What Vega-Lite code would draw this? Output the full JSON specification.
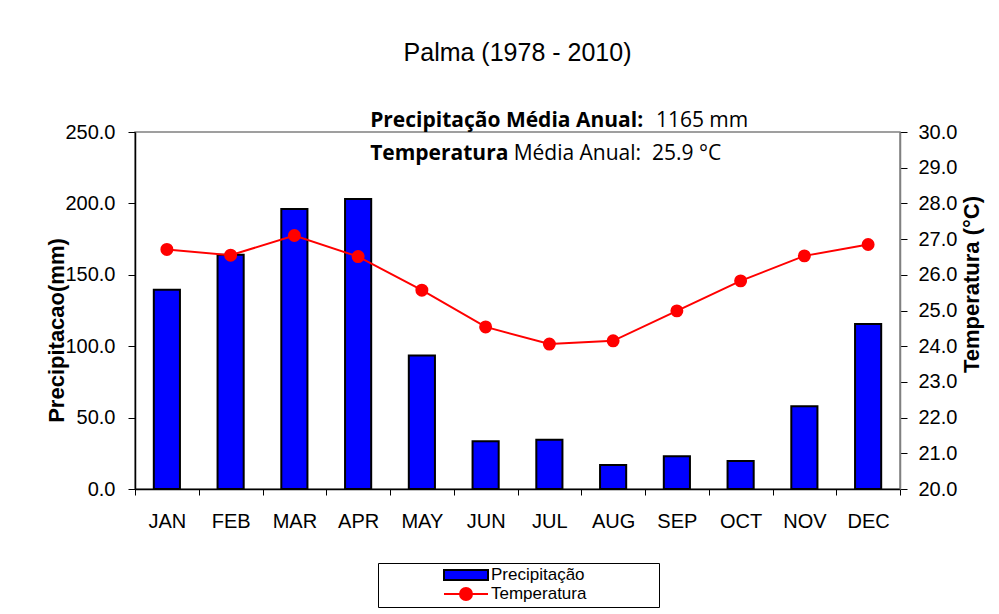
{
  "$schema": "https://vega.github.io/schema/vega-lite/v6.json",
  "width": 765,
  "height": 357,
  "autosize": {"type": "none"},
  "padding": {"left": 135, "top": 132, "right": 99, "bottom": 125},
  "background": "white",
  "title": {
    "text": "Palma (1978 - 2010)",
    "font": "Liberation Sans",
    "fontSize": 25,
    "fontWeight": "normal",
    "color": "black",
    "anchor": "middle",
    "baseline": "alphabetic",
    "offset": 24
  },
  "config": {
    "font": "Liberation Sans",
    "view": {"stroke": "#808080", "strokeWidth": 1.5},
    "legend": {
      "orient": "none",
      "legendX": 243,
      "legendY": 431,
      "direction": "vertical",
      "strokeColor": "black",
      "fillColor": "white",
      "padding": 3,
      "symbolOffset": 76,
      "symbolSize": 256,
      "symbolStrokeWidth": 2,
      "labelOffset": 16,
      "rowPadding": 0,
      "labelFont": "Liberation Sans",
      "labelFontSize": 17,
      "labelColor": "black",
      "labelLimit": 300,
      "titleOrient": "right",
      "titleFontSize": 17,
      "titlePadding": 3,
      "titleFont": "DejaVu Sans",
      "titleLimit": 300
    }
  },
  "datasets": {
    "precipitacao": [
      {"month": "JAN", "serie": "Precipitação", "valor": 139.5},
      {"month": "FEB", "serie": "Precipitação", "valor": 164},
      {"month": "MAR", "serie": "Precipitação", "valor": 196},
      {"month": "APR", "serie": "Precipitação", "valor": 203},
      {"month": "MAY", "serie": "Precipitação", "valor": 93.5},
      {"month": "JUN", "serie": "Precipitação", "valor": 33.5},
      {"month": "JUL", "serie": "Precipitação", "valor": 34.5},
      {"month": "AUG", "serie": "Precipitação", "valor": 16.8},
      {"month": "SEP", "serie": "Precipitação", "valor": 23},
      {"month": "OCT", "serie": "Precipitação", "valor": 19.6},
      {"month": "NOV", "serie": "Precipitação", "valor": 58},
      {"month": "DEC", "serie": "Precipitação", "valor": 115.5}
    ],
    "temperatura": [
      {"month": "JAN", "serie": "Temperatura", "valor": 26.71},
      {"month": "FEB", "serie": "Temperatura", "valor": 26.55},
      {"month": "MAR", "serie": "Temperatura", "valor": 27.1},
      {"month": "APR", "serie": "Temperatura", "valor": 26.51},
      {"month": "MAY", "serie": "Temperatura", "valor": 25.57},
      {"month": "JUN", "serie": "Temperatura", "valor": 24.54},
      {"month": "JUL", "serie": "Temperatura", "valor": 24.06},
      {"month": "AUG", "serie": "Temperatura", "valor": 24.15},
      {"month": "SEP", "serie": "Temperatura", "valor": 24.99},
      {"month": "OCT", "serie": "Temperatura", "valor": 25.83},
      {"month": "NOV", "serie": "Temperatura", "valor": 26.53},
      {"month": "DEC", "serie": "Temperatura", "valor": 26.85}
    ],
    "vazio": []
  },
  "encoding": {
    "x": {
      "field": "month",
      "type": "ordinal",
      "sort": ["JAN","FEB","MAR","APR","MAY","JUN","JUL","AUG","SEP","OCT","NOV","DEC"],
      "scale": {"paddingInner": 0, "paddingOuter": 0},
      "axis": {
        "title": null,
        "labelAngle": 0,
        "labelFont": "Liberation Sans",
        "labelFontSize": 20,
        "labelColor": "black",
        "labelPadding": 16,
        "tickBand": "extent",
        "tickSize": 6,
        "tickColor": "black",
        "domainColor": "black",
        "domainWidth": 1.5
      }
    }
  },
  "resolve": {"scale": {"y": "independent"}},
  "layer": [
    {
      "layer": [
        {
          "data": {"name": "precipitacao"},
          "mark": {"type": "bar", "strokeWidth": 2, "width": {"band": 0.41}},
          "encoding": {
            "y": {
              "field": "valor",
              "type": "quantitative",
              "scale": {"domain": [0, 250], "nice": false},
              "axis": {
                "title": "Precipitacao(mm)",
                "titleFont": "Liberation Sans",
                "titleFontSize": 22,
                "titleFontWeight": "bold",
                "titleColor": "black",
                "titleAngle": -90,
                "titleBaseline": "bottom",
                "titleAlign": "center",
                "titleX": -67,
                "titleY": 198,
                "values": [0, 50, 100, 150, 200, 250],
                "format": ".1f",
                "labelFont": "Liberation Sans",
                "labelFontSize": 20,
                "labelColor": "black",
                "labelPadding": 13,
                "tickSize": 7,
                "tickColor": "black",
                "domainColor": "black",
                "domainWidth": 1.5,
                "grid": false
              }
            },
            "fill": {
              "field": "serie",
              "type": "nominal",
              "scale": {"domain": ["Precipitação", "Temperatura"], "range": ["#0000FF", "#FF0000"]},
              "legend": {"title": "\u2800\u2800\u2800\u2800\u2800"}
            },
            "stroke": {
              "field": "serie",
              "type": "nominal",
              "scale": {"domain": ["Precipitação", "Temperatura"], "range": ["black", "#FF0000"]},
              "legend": {"title": "\u2800\u2800\u2800\u2800\u2800"}
            }
          }
        },
        {
          "data": {"name": "vazio"},
          "mark": {"type": "point", "filled": true},
          "encoding": {
            "shape": {
              "field": "serie",
              "type": "nominal",
              "scale": {
                "domain": ["Precipitação", "Temperatura"],
                "range": ["M-2.75,-0.625H2.75V0.625H-2.75Z", "M-2.75,0H2.75M-0.75,0A0.75,0.75 0 1,1 0.75,0A0.75,0.75 0 1,1 -0.75,0Z"]
              },
              "legend": {"title": "\u2800\u2800\u2800\u2800\u2800"}
            }
          }
        },
        {
          "data": {"values": [
            {"month": "APR", "pos": 257.7, "label": "Precipitação Média Anual:"},
            {"month": "APR", "pos": 234.6, "label": "Temperatura"}
          ]},
          "mark": {"type": "text", "font": "Open Sans", "fontSize": 21, "fontWeight": "bold", "align": "left", "baseline": "middle", "dx": 12, "color": "black"},
          "encoding": {
            "y": {"field": "pos", "type": "quantitative"},
            "text": {"field": "label"}
          }
        },
        {
          "data": {"values": [
            {"month": "SEP", "pos": 257.7, "label": "1165 mm"}
          ]},
          "mark": {"type": "text", "font": "Open Sans", "fontSize": 21, "fontWeight": "normal", "align": "left", "baseline": "middle", "dx": -21, "color": "black"},
          "encoding": {
            "y": {"field": "pos", "type": "quantitative"},
            "text": {"field": "label"}
          }
        },
        {
          "data": {"values": [
            {"month": "JUN", "pos": 234.6, "label": "Média Anual:\u00a0 25.9 °C"}
          ]},
          "mark": {"type": "text", "font": "Open Sans", "fontSize": 21, "fontWeight": "normal", "align": "left", "baseline": "middle", "dx": 28, "color": "black"},
          "encoding": {
            "y": {"field": "pos", "type": "quantitative"},
            "text": {"field": "label"}
          }
        }
      ]
    },
    {
      "data": {"name": "temperatura"},
      "mark": {
        "type": "line",
        "strokeWidth": 2,
        "point": {"filled": true, "size": 120, "color": "#FF0000"}
      },
      "encoding": {
        "y": {
          "field": "valor",
          "type": "quantitative",
          "scale": {"domain": [20, 30], "nice": false},
          "axis": {
            "orient": "right",
            "title": "Temperatura (°C)",
            "titleFont": "Liberation Sans",
            "titleFontSize": 22,
            "titleFontWeight": "bold",
            "titleColor": "black",
            "titleAngle": -90,
            "titleBaseline": "bottom",
            "titleAlign": "center",
            "titleX": 83,
            "titleY": 152,
            "values": [20, 21, 22, 23, 24, 25, 26, 27, 28, 29, 30],
            "format": ".1f",
            "labelFont": "Liberation Sans",
            "labelFontSize": 20,
            "labelColor": "black",
            "labelPadding": 11,
            "tickSize": 7,
            "tickColor": "black",
            "domainColor": "#808080",
            "domainWidth": 1.5,
            "grid": false
          }
        },
        "stroke": {"field": "serie", "type": "nominal"}
      }
    }
  ]
}
